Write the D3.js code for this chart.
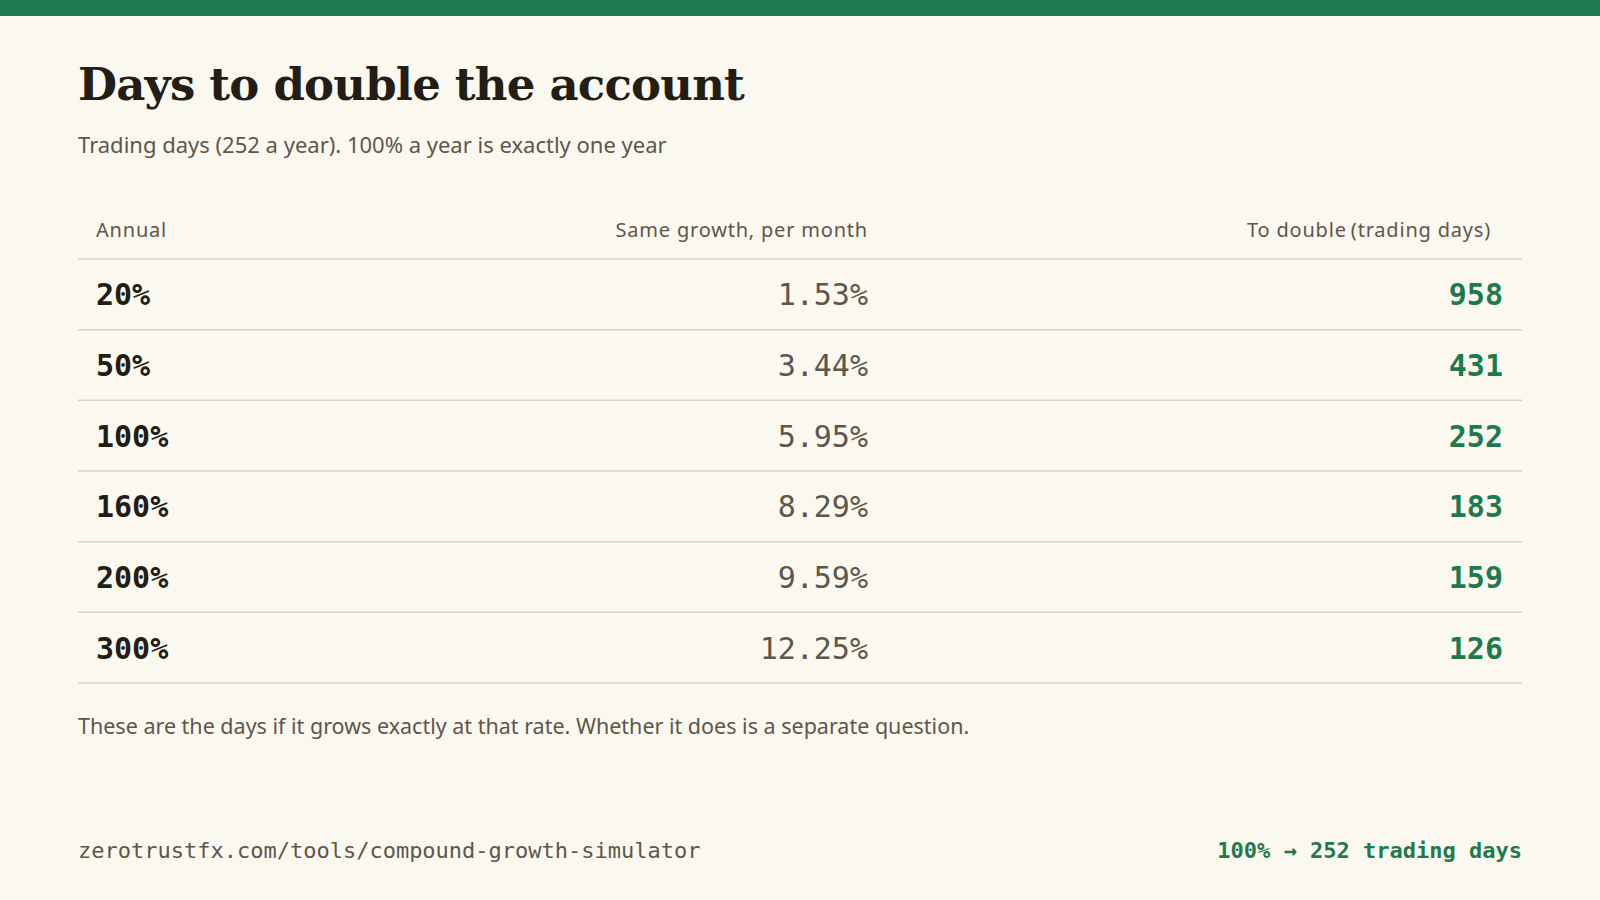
<!DOCTYPE html>
<html><head><meta charset="utf-8">
<script src="https://cdn.jsdelivr.net/npm/d3@7"></script>
<style>body{margin:0;background:#fbf8ef}</style></head>
<body><svg id="c" width="1600" height="900"></svg>
<script>
const annual = ["20%","50%","100%","160%","200%","300%"];
const monthly = ["1.53%","3.44%","5.95%","8.29%","9.59%","12.25%"];
const days = [958,431,252,183,159,126];
const headers = ["Annual","Same growth, per month","To double\u2009(trading days)"];

const svg = d3.select("#c");
const green="#1d7a4e", dark="#221d16", grey="#5e564a", line="#d9d3c5";
const mono="'DejaVu Sans Mono', 'Liberation Mono', monospace";
const sans="'Noto Sans', Lato, sans-serif";
svg.append("rect").attr("width",1600).attr("height",900).attr("fill","#fbf8ef");
svg.append("rect").attr("width",1600).attr("height",16).attr("fill",green);
svg.append("text").attr("x",78).attr("y",100).text("Days to double the account")
  .attr("font-family","'DejaVu Serif', serif").attr("font-weight","bold").attr("font-size",45).attr("fill",dark).attr("letter-spacing",-0.8);
svg.append("text").attr("x",78).attr("y",153).text("Trading days (252 a year). 100% a year is exactly one year")
  .attr("font-family",sans).attr("font-size",22).attr("fill",grey);

const L=78,R=1522, cA=96, cM=868, cD=1503;
const y=d3.scaleBand().domain(annual).range([259,683]);
const hy=237;
[[cA,"start"],[cM,"end"],[1491,"end"]].forEach((c,i)=>svg.append("text").attr("x",c[0]).attr("y",hy).attr("text-anchor",c[1])
  .text(headers[i]).attr("font-family",sans).attr("font-size",20).attr("fill",grey).attr("letter-spacing",0.8));
svg.append("line").attr("x1",L).attr("x2",R).attr("y1",259).attr("y2",259).attr("stroke",line).attr("stroke-width",1.5);
annual.forEach((a,i)=>{
  const yc=y(a)+y.bandwidth()/2+11;
  svg.append("text").attr("x",cA).attr("y",yc).text(a).attr("font-family",mono).attr("font-weight","bold").attr("font-size",30).attr("fill",dark);
  svg.append("text").attr("x",cM).attr("y",yc).attr("text-anchor","end").text(monthly[i]).attr("font-family",mono).attr("font-size",30).attr("fill",grey);
  svg.append("text").attr("x",cD).attr("y",yc).attr("text-anchor","end").text(days[i]).attr("font-family",mono).attr("font-weight","bold").attr("font-size",30).attr("fill",green);
  const yb=y(a)+y.bandwidth();
  svg.append("line").attr("x1",L).attr("x2",R).attr("y1",yb).attr("y2",yb).attr("stroke",line).attr("stroke-width",1.5);
});
svg.append("text").attr("x",78).attr("y",734).text("These are the days if it grows exactly at that rate. Whether it does is a separate question.")
  .attr("font-family",sans).attr("font-size",21.5).attr("fill",grey);
svg.append("text").attr("x",78).attr("y",858).text("zerotrustfx.com/tools/compound-growth-simulator")
  .attr("font-family",mono).attr("font-size",22).attr("fill",grey);
svg.append("text").attr("x",1522).attr("y",858).attr("text-anchor","end").text("100% \u2192 252 trading days")
  .attr("font-family",mono).attr("font-weight","bold").attr("font-size",22).attr("fill",green);
</script></body></html>
